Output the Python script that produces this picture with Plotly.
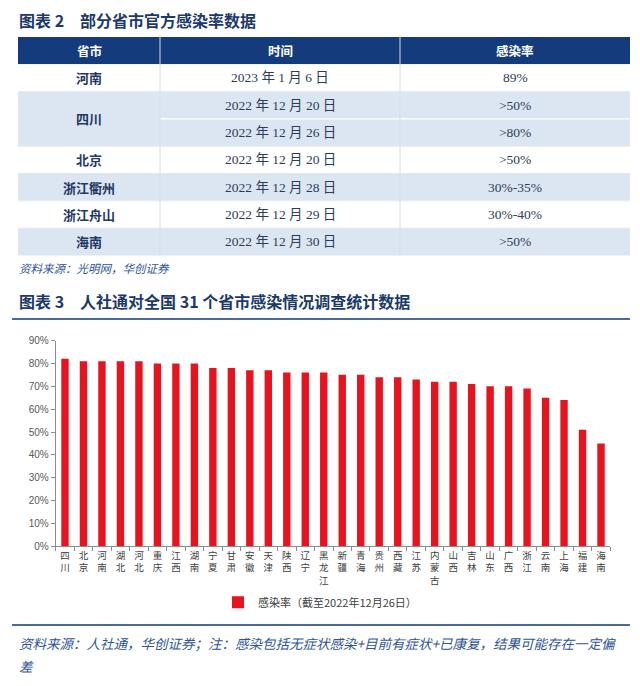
import plotly.graph_objects as go

W, H = 640, 686

# ---------------- data: table (图表2) ----------------
tbl_header = ["省市", "时间", "感染率"]
tbl_province = ["河南", "四川", "北京", "浙江衢州", "浙江舟山", "海南"]
tbl_span = [1, 2, 1, 1, 1, 1]
tbl_dates = ["2023 年 1 月 6 日", "2022 年 12 月 20 日", "2022 年 12 月 26 日",
             "2022 年 12 月 20 日", "2022 年 12 月 28 日", "2022 年 12 月 29 日",
             "2022 年 12 月 30 日"]
tbl_rates = ["89%", ">50%", ">80%", ">50%", "30%-35%", "30%-40%", ">50%"]

# ---------------- data: bar chart (图表3) ----------------
provinces = ["四川", "北京", "河南", "湖北", "河北", "重庆", "江西", "湖南", "宁夏", "甘肃",
             "安徽", "天津", "陕西", "辽宁", "黑龙江", "新疆", "青海", "贵州", "西藏", "江苏",
             "内蒙古", "山西", "吉林", "山东", "广西", "浙江", "云南", "上海", "福建", "海南"]
rates = [82, 81, 81, 81, 81, 80, 80, 80, 78, 78,
         77, 77, 76, 76, 76, 75, 75, 74, 74, 73,
         72, 72, 71, 70, 70, 69, 65, 64, 51, 45]
y_ticks = [0, 10, 20, 30, 40, 50, 60, 70, 80, 90]
y_ticklabels = ["0%", "10%", "20%", "30%", "40%", "50%", "60%", "70%", "80%", "90%"]
series_name = "感染率（截至2022年12月26日）"

# ---------------- styles ----------------
NAVY = "#143C7C"
LIGHT = "#DCE6F2"
TITLE_C = "#1B3A6B"
SRC_C = "#2F5597"
RED = "#E6141E"
CJK = "Noto Sans CJK SC"
SERIF = "Liberation Serif, Noto Sans CJK SC"

def px_x(p):
    return p / W

def px_y(p):
    return 1 - p / H

col_edges = [0, 142, 382, 612]
n_rows = 1 + len(tbl_dates)

fig = go.Figure()

fig.add_trace(go.Bar(
    x=provinces, y=rates, name=series_name, marker_color=RED,
    marker_line_width=0, showlegend=True,
))

shapes = []
annotations = []

# ---- table drawn on x2/y2 ----
shapes.append(dict(type="rect", xref="x2", yref="y2", x0=col_edges[0], x1=col_edges[-1],
                   y0=0, y1=1, fillcolor=NAVY, line_width=0, layer="below"))
for c, h in enumerate(tbl_header):
    annotations.append(dict(xref="x2", yref="y2", x=(col_edges[c] + col_edges[c + 1]) / 2, y=0.5,
                            text=f"<b>{h}</b>", showarrow=False,
                            font=dict(family=CJK, size=12.5, color="white")))
r = 1
for g, (prov, span) in enumerate(zip(tbl_province, tbl_span)):
    fill = LIGHT if g % 2 == 1 else "white"
    shapes.append(dict(type="rect", xref="x2", yref="y2", x0=col_edges[0], x1=col_edges[-1],
                       y0=r, y1=r + span, fillcolor=fill, line_width=0, layer="below"))
    annotations.append(dict(xref="x2", yref="y2", x=(col_edges[0] + col_edges[1]) / 2,
                            y=r + span / 2, text=f"<b>{prov}</b>", showarrow=False,
                            font=dict(family=CJK, size=13, color="#1F3864")))
    for k in range(1, span):
        shapes.append(dict(type="line", xref="x2", yref="y2", x0=col_edges[1], x1=col_edges[-1],
                           y0=r + k, y1=r + k, line=dict(color="white", width=1.2)))
    shapes.append(dict(type="line", xref="x2", yref="y2", x0=col_edges[0], x1=col_edges[-1],
                       y0=r + span, y1=r + span, line=dict(color="#E4E9F0", width=1)))
    r += span
for i, (d, v) in enumerate(zip(tbl_dates, tbl_rates)):
    yy = 1 + i + 0.5
    annotations.append(dict(xref="x2", yref="y2", x=(col_edges[1] + col_edges[2]) / 2, y=yy,
                            text=d, showarrow=False,
                            font=dict(family=SERIF, size=13.5, color="#2E3B55")))
    annotations.append(dict(xref="x2", yref="y2", x=(col_edges[2] + col_edges[3]) / 2, y=yy,
                            text=v, showarrow=False,
                            font=dict(family=SERIF, size=13.5, color="#2E3B55")))
for xe in col_edges[1:-1]:
    shapes.append(dict(type="line", xref="x2", yref="y2", x0=xe, x1=xe, y0=0, y1=n_rows,
                       line=dict(color="#D6DDE8", width=1)))

# ---- titles, rules, sources ----
annotations.append(dict(xref="paper", yref="paper", x=px_x(17), y=px_y(14), xanchor="left",
                        yanchor="middle", showarrow=False,
                        text="<b>图表 2　部分省市官方感染率数据</b>",
                        font=dict(family=CJK, size=16, color=TITLE_C)))
annotations.append(dict(xref="paper", yref="paper", x=px_x(17), y=px_y(266), xanchor="left",
                        yanchor="middle", showarrow=False,
                        text="<i>资料来源：光明网，华创证券</i>",
                        font=dict(family=CJK, size=11.5, color=SRC_C)))
annotations.append(dict(xref="paper", yref="paper", x=px_x(17), y=px_y(300), xanchor="left",
                        yanchor="middle", showarrow=False,
                        text="<b>图表 3　人社通对全国 31 个省市感染情况调查统计数据</b>",
                        font=dict(family=CJK, size=16, color=TITLE_C)))
shapes.append(dict(type="line", xref="paper", yref="paper", x0=px_x(12), x1=px_x(630),
                   y0=px_y(318), y1=px_y(318), line=dict(color="#4A6A9B", width=2)))
shapes.append(dict(type="line", xref="paper", yref="paper", x0=px_x(12), x1=px_x(630),
                   y0=px_y(629), y1=px_y(629), line=dict(color="#4A6A9B", width=2)))
annotations.append(dict(xref="paper", yref="paper", x=px_x(17), y=px_y(647), xanchor="left",
                        yanchor="middle", showarrow=False,
                        text="<i>资料来源：人社通，华创证券；注：感染包括无症状感染+目前有症状+已康复，结果可能存在一定偏</i>",
                        font=dict(family=CJK, size=13.5, color=SRC_C)))
annotations.append(dict(xref="paper", yref="paper", x=px_x(17), y=px_y(671), xanchor="left",
                        yanchor="middle", showarrow=False,
                        text="<i>差</i>",
                        font=dict(family=CJK, size=13.5, color=SRC_C)))

AX_C = "#8C8C8C"
fig.update_layout(
    width=W, height=H, margin=dict(l=0, r=0, t=0, b=0),
    paper_bgcolor="white", plot_bgcolor="white",
    bargap=0.6,
    shapes=shapes, annotations=annotations,
    showlegend=True,
    legend=dict(orientation="h", x=0.5, xanchor="center", y=px_y(606), yanchor="middle",
                font=dict(family=CJK, size=11, color="#404040"), itemwidth=30,
                bgcolor="rgba(0,0,0,0)"),
    xaxis=dict(domain=[px_x(55.75), px_x(610.25)], type="category", range=[-0.5, len(provinces) - 0.5],
               tickvals=provinces, ticktext=["<br>".join(p) for p in provinces], tickangle=0,
               showline=True, linecolor=AX_C, linewidth=1, ticks="outside", tickson="boundaries",
               ticklen=4, tickcolor=AX_C, showgrid=False, anchor="y",
               tickfont=dict(family="Liberation Sans, Noto Sans CJK SC", size=9.5, color="#404040")),
    yaxis=dict(domain=[px_y(549.3), px_y(340)], range=[0, 90], tickmode="array",
               tickvals=y_ticks, ticktext=y_ticklabels,
               showline=True, linecolor=AX_C, linewidth=1, ticks="outside", ticklen=4,
               tickcolor=AX_C, showgrid=False, zeroline=False, anchor="x",
               tickfont=dict(family="Liberation Sans, Arial", size=10, color="#595959")),
    xaxis2=dict(domain=[px_x(18), px_x(630)], range=[col_edges[0], col_edges[-1]], visible=False,
                anchor="y2", fixedrange=True),
    yaxis2=dict(domain=[px_y(253.5), px_y(31.5)], range=[n_rows, 0], visible=False,
                anchor="x2", fixedrange=True),
)

fig.write_html("out.html")
